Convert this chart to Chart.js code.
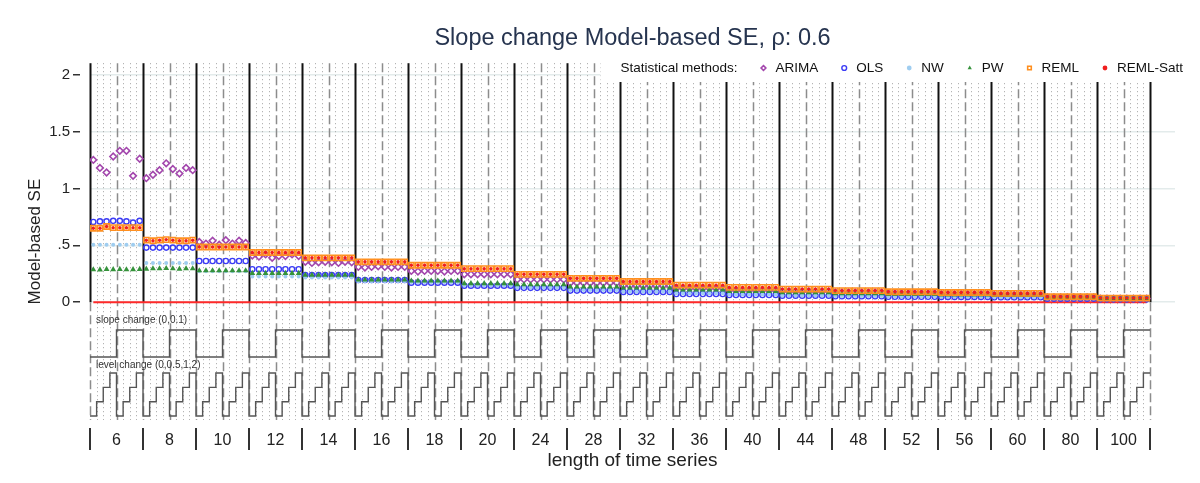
<!DOCTYPE html>
<html>
<head>
<meta charset="utf-8">
<title>Slope change Model-based SE</title>
<script src="https://cdn.jsdelivr.net/npm/chart.js@4.4.1/dist/chart.umd.min.js"></script>
<style>
  body { margin: 0; background: #fff; }
  #wrap { width: 1200px; height: 483px; }
</style>
</head>
<body>
<div id="wrap"><canvas id="seChart" width="1200" height="483"></canvas></div>
<script>
// Categories: length of the time series, and the design inside each group
const groupLabels = ['6', '8', '10', '12', '14', '16', '18', '20', '24', '28',
                     '32', '36', '40', '44', '48', '52', '56', '60', '80', '100'];
const slopeLevels = [0, 0.1];
const levelLevels = [0, 0.5, 1, 2];

// y axis ticks
const yTickValues = [0, 0.5, 1, 1.5, 2];
const yTickLabels = ['0', '.5', '1', '1.5', '2'];

const methodNames = ['ARIMA', 'OLS', 'NW', 'PW', 'REML', 'REML-Satt'];

// Model-based SE, one row per series length, 8 cells per row
// (slope 0: level 0,0.5,1,2 then slope 0.1: level 0,0.5,1,2)
const arimaSE = [
  [1.25, 1.18, 1.14, 1.28, 1.33, 1.33, 1.11, 1.26],
  [1.09, 1.12, 1.16, 1.22, 1.17, 1.13, 1.18, 1.16],
  [0.53, 0.515, 0.54, 0.505, 0.545, 0.515, 0.54, 0.52],
  [0.41, 0.40, 0.42, 0.39, 0.405, 0.405, 0.42, 0.405],
  [0.355, 0.345, 0.35, 0.355, 0.35, 0.345, 0.355, 0.35],
  [0.31, 0.305, 0.31, 0.315, 0.31, 0.305, 0.31, 0.31],
  [0.275, 0.27, 0.275, 0.275, 0.275, 0.27, 0.275, 0.275],
  [0.245, 0.245, 0.245, 0.245, 0.245, 0.245, 0.245, 0.245],
  [0.20, 0.20, 0.20, 0.20, 0.20, 0.20, 0.20, 0.20],
  [0.17, 0.17, 0.17, 0.17, 0.17, 0.17, 0.17, 0.17],
  [0.145, 0.145, 0.145, 0.145, 0.145, 0.145, 0.145, 0.145],
  [0.122, 0.122, 0.122, 0.122, 0.122, 0.122, 0.122, 0.122],
  [0.105, 0.105, 0.105, 0.105, 0.105, 0.105, 0.105, 0.105],
  [0.095, 0.095, 0.095, 0.095, 0.095, 0.095, 0.095, 0.095],
  [0.085, 0.085, 0.085, 0.085, 0.085, 0.085, 0.085, 0.085],
  [0.077, 0.077, 0.077, 0.077, 0.077, 0.077, 0.077, 0.077],
  [0.07, 0.07, 0.07, 0.07, 0.07, 0.07, 0.07, 0.07],
  [0.064, 0.064, 0.064, 0.064, 0.064, 0.064, 0.064, 0.064],
  [0.042, 0.042, 0.042, 0.042, 0.042, 0.042, 0.042, 0.042],
  [0.032, 0.032, 0.032, 0.032, 0.032, 0.032, 0.032, 0.032]
];
const olsSE = [
  [0.705, 0.71, 0.71, 0.715, 0.715, 0.71, 0.70, 0.715],
  [0.48, 0.48, 0.48, 0.48, 0.48, 0.48, 0.48, 0.48],
  [0.362, 0.362, 0.362, 0.362, 0.362, 0.362, 0.362, 0.362],
  [0.29, 0.29, 0.29, 0.29, 0.29, 0.29, 0.29, 0.29],
  [0.238, 0.238, 0.238, 0.238, 0.238, 0.238, 0.238, 0.238],
  [0.195, 0.195, 0.195, 0.195, 0.195, 0.195, 0.195, 0.195],
  [0.172, 0.172, 0.172, 0.172, 0.172, 0.172, 0.172, 0.172],
  [0.145, 0.145, 0.145, 0.145, 0.145, 0.145, 0.145, 0.145],
  [0.126, 0.126, 0.126, 0.126, 0.126, 0.126, 0.126, 0.126],
  [0.102, 0.102, 0.102, 0.102, 0.102, 0.102, 0.102, 0.102],
  [0.09, 0.09, 0.09, 0.09, 0.09, 0.09, 0.09, 0.09],
  [0.072, 0.072, 0.072, 0.072, 0.072, 0.072, 0.072, 0.072],
  [0.063, 0.063, 0.063, 0.063, 0.063, 0.063, 0.063, 0.063],
  [0.057, 0.057, 0.057, 0.057, 0.057, 0.057, 0.057, 0.057],
  [0.052, 0.052, 0.052, 0.052, 0.052, 0.052, 0.052, 0.052],
  [0.048, 0.048, 0.048, 0.048, 0.048, 0.048, 0.048, 0.048],
  [0.046, 0.046, 0.046, 0.046, 0.046, 0.046, 0.046, 0.046],
  [0.043, 0.043, 0.043, 0.043, 0.043, 0.043, 0.043, 0.043],
  [0.031, 0.031, 0.031, 0.031, 0.031, 0.031, 0.031, 0.031],
  [0.025, 0.025, 0.025, 0.025, 0.025, 0.025, 0.025, 0.025]
];
const nwSE = [
  [0.505, 0.505, 0.505, 0.505, 0.505, 0.505, 0.505, 0.505],
  [0.345, 0.345, 0.345, 0.345, 0.345, 0.345, 0.345, 0.345],
  [0.272, 0.272, 0.272, 0.272, 0.272, 0.272, 0.272, 0.272],
  [0.225, 0.225, 0.225, 0.225, 0.225, 0.225, 0.225, 0.225],
  [0.218, 0.218, 0.218, 0.218, 0.218, 0.218, 0.218, 0.218],
  [0.185, 0.185, 0.185, 0.185, 0.185, 0.185, 0.185, 0.185],
  [0.178, 0.178, 0.178, 0.178, 0.178, 0.178, 0.178, 0.178],
  [0.15, 0.15, 0.15, 0.15, 0.15, 0.15, 0.15, 0.15],
  [0.13, 0.13, 0.13, 0.13, 0.13, 0.13, 0.13, 0.13],
  [0.108, 0.108, 0.108, 0.108, 0.108, 0.108, 0.108, 0.108],
  [0.095, 0.095, 0.095, 0.095, 0.095, 0.095, 0.095, 0.095],
  [0.078, 0.078, 0.078, 0.078, 0.078, 0.078, 0.078, 0.078],
  [0.068, 0.068, 0.068, 0.068, 0.068, 0.068, 0.068, 0.068],
  [0.06, 0.06, 0.06, 0.06, 0.06, 0.06, 0.06, 0.06],
  [0.055, 0.055, 0.055, 0.055, 0.055, 0.055, 0.055, 0.055],
  [0.05, 0.05, 0.05, 0.05, 0.05, 0.05, 0.05, 0.05],
  [0.047, 0.047, 0.047, 0.047, 0.047, 0.047, 0.047, 0.047],
  [0.044, 0.044, 0.044, 0.044, 0.044, 0.044, 0.044, 0.044],
  [0.032, 0.032, 0.032, 0.032, 0.032, 0.032, 0.032, 0.032],
  [0.026, 0.026, 0.026, 0.026, 0.026, 0.026, 0.026, 0.026]
];
const pwSE = [
  [0.287, 0.285, 0.29, 0.288, 0.29, 0.287, 0.288, 0.29],
  [0.292, 0.295, 0.295, 0.298, 0.295, 0.292, 0.295, 0.295],
  [0.278, 0.278, 0.278, 0.278, 0.278, 0.278, 0.278, 0.278],
  [0.255, 0.255, 0.255, 0.255, 0.255, 0.255, 0.255, 0.255],
  [0.238, 0.238, 0.238, 0.238, 0.238, 0.238, 0.238, 0.238],
  [0.197, 0.197, 0.197, 0.197, 0.197, 0.197, 0.197, 0.197],
  [0.188, 0.188, 0.188, 0.188, 0.188, 0.188, 0.188, 0.188],
  [0.165, 0.165, 0.165, 0.165, 0.165, 0.165, 0.165, 0.165],
  [0.155, 0.155, 0.155, 0.155, 0.155, 0.155, 0.155, 0.155],
  [0.135, 0.135, 0.135, 0.135, 0.135, 0.135, 0.135, 0.135],
  [0.126, 0.126, 0.126, 0.126, 0.126, 0.126, 0.126, 0.126],
  [0.11, 0.11, 0.11, 0.11, 0.11, 0.11, 0.11, 0.11],
  [0.095, 0.095, 0.095, 0.095, 0.095, 0.095, 0.095, 0.095],
  [0.085, 0.085, 0.085, 0.085, 0.085, 0.085, 0.085, 0.085],
  [0.077, 0.077, 0.077, 0.077, 0.077, 0.077, 0.077, 0.077],
  [0.07, 0.07, 0.07, 0.07, 0.07, 0.07, 0.07, 0.07],
  [0.065, 0.065, 0.065, 0.065, 0.065, 0.065, 0.065, 0.065],
  [0.06, 0.06, 0.06, 0.06, 0.06, 0.06, 0.06, 0.06],
  [0.04, 0.04, 0.04, 0.04, 0.04, 0.04, 0.04, 0.04],
  [0.031, 0.031, 0.031, 0.031, 0.031, 0.031, 0.031, 0.031]
];
const remlSE = [
  [0.65, 0.65, 0.665, 0.655, 0.655, 0.655, 0.655, 0.655],
  [0.545, 0.54, 0.545, 0.55, 0.545, 0.54, 0.54, 0.545],
  [0.485, 0.485, 0.485, 0.485, 0.485, 0.485, 0.485, 0.485],
  [0.437, 0.437, 0.437, 0.437, 0.437, 0.437, 0.437, 0.437],
  [0.39, 0.39, 0.39, 0.39, 0.39, 0.39, 0.39, 0.39],
  [0.355, 0.355, 0.355, 0.355, 0.355, 0.355, 0.355, 0.355],
  [0.325, 0.325, 0.325, 0.325, 0.325, 0.325, 0.325, 0.325],
  [0.295, 0.295, 0.295, 0.295, 0.295, 0.295, 0.295, 0.295],
  [0.245, 0.245, 0.245, 0.245, 0.245, 0.245, 0.245, 0.245],
  [0.21, 0.21, 0.21, 0.21, 0.21, 0.21, 0.21, 0.21],
  [0.182, 0.182, 0.182, 0.182, 0.182, 0.182, 0.182, 0.182],
  [0.15, 0.15, 0.15, 0.15, 0.15, 0.15, 0.15, 0.15],
  [0.13, 0.13, 0.13, 0.13, 0.13, 0.13, 0.13, 0.13],
  [0.115, 0.115, 0.115, 0.115, 0.115, 0.115, 0.115, 0.115],
  [0.102, 0.102, 0.102, 0.102, 0.102, 0.102, 0.102, 0.102],
  [0.092, 0.092, 0.092, 0.092, 0.092, 0.092, 0.092, 0.092],
  [0.085, 0.085, 0.085, 0.085, 0.085, 0.085, 0.085, 0.085],
  [0.077, 0.077, 0.077, 0.077, 0.077, 0.077, 0.077, 0.077],
  [0.048, 0.048, 0.048, 0.048, 0.048, 0.048, 0.048, 0.048],
  [0.036, 0.036, 0.036, 0.036, 0.036, 0.036, 0.036, 0.036]
];
// Satterthwaite only changes the df, the SE sits on top of the REML one
const remlSattSE = remlSE;

const FONT = "'Liberation Sans', Arial, sans-serif";
const cellsPerGroup = slopeLevels.length * levelLevels.length;
const totalCells = groupLabels.length * cellsPerGroup;

// marker style per method
const methodStyles = [
  { pointStyle: 'rectRot', radius: 3.3, borderColor: '#a347ad', backgroundColor: 'rgba(0,0,0,0)', borderWidth: 1.6 },
  { pointStyle: 'circle', radius: 2.6, borderColor: '#3b3bf5', backgroundColor: 'rgba(0,0,0,0)', borderWidth: 1.4 },
  { pointStyle: 'circle', radius: 2, borderColor: '#9fcdf0', backgroundColor: '#9fcdf0', borderWidth: 0 },
  { pointStyle: 'triangle', radius: 3.4, borderColor: '#35923b', backgroundColor: '#35923b', borderWidth: 0 },
  { pointStyle: 'rect', radius: 3.7, borderColor: '#ff8f1f', backgroundColor: 'rgba(0,0,0,0)', borderWidth: 1.6 },
  { pointStyle: 'circle', radius: 1.7, borderColor: '#f01e1e', backgroundColor: '#f01e1e', borderWidth: 0 }
];

// put each value at the centre of its cell
function toPoints(rows) {
  const pts = [];
  rows.forEach((row, g) => {
    row.forEach((v, k) => pts.push({ x: g * cellsPerGroup + k + 0.5, y: v }));
  });
  return pts;
}

// design step lines (slope change and level change), one step per cell
const slopeSteps = [];
const levelSteps = [];
groupLabels.forEach((label, g) => {
  slopeLevels.forEach((s, si) => {
    levelLevels.forEach((l, li) => {
      const x = g * cellsPerGroup + si * levelLevels.length + li;
      slopeSteps.push({ x: x, y: s });
      levelSteps.push({ x: x, y: li });
    });
  });
});
slopeSteps.push({ x: totalCells, y: slopeSteps[slopeSteps.length - 1].y });
levelSteps.push({ x: totalCells, y: levelSteps[levelSteps.length - 1].y });

const zeroLine = [{ x: 0.5, y: 0 }, { x: totalCells - 0.5, y: 0 }];

const seRows = [arimaSE, olsSE, nwSE, pwSE, remlSE, remlSattSE];
const methodDatasets = methodNames.map((name, m) => ({
  label: name,
  data: toPoints(seRows[m]),
  yAxisID: 'y',
  showLine: false,
  order: methodNames.length - m,
  pointStyle: methodStyles[m].pointStyle,
  pointRadius: methodStyles[m].radius,
  pointBorderWidth: methodStyles[m].borderWidth,
  pointBorderColor: methodStyles[m].borderColor,
  pointBackgroundColor: methodStyles[m].backgroundColor
}));

function drawMarker(ctx, st, x, y, r) {
  ctx.save();
  ctx.lineWidth = st.borderWidth;
  ctx.strokeStyle = st.borderColor;
  ctx.fillStyle = st.backgroundColor;
  ctx.beginPath();
  if (st.pointStyle === 'circle') {
    ctx.arc(x, y, r, 0, Math.PI * 2);
  } else if (st.pointStyle === 'rect') {
    ctx.rect(x - r * 0.75, y - r * 0.75, r * 1.5, r * 1.5);
  } else if (st.pointStyle === 'rectRot') {
    ctx.moveTo(x, y - r); ctx.lineTo(x + r, y); ctx.lineTo(x, y + r); ctx.lineTo(x - r, y); ctx.closePath();
  } else {
    ctx.moveTo(x, y - r); ctx.lineTo(x + r * 0.87, y + r * 0.5); ctx.lineTo(x - r * 0.87, y + r * 0.5); ctx.closePath();
  }
  ctx.fill();
  if (st.borderWidth > 0) ctx.stroke();
  ctx.restore();
}

// Vertical guide lines, panel captions, legend and group tick marks
const panelLines = {
  id: 'panelLines',
  beforeDatasetsDraw(chart) {
    const { ctx, chartArea, scales } = chart;
    const top = chartArea.top;
    const bottom = chartArea.bottom;
    const zeroY = scales.y.getPixelForValue(0);
    ctx.save();
    for (let i = 0; i <= totalCells; i++) {
      const px = Math.round(scales.x.getPixelForValue(i)) + 0.5;
      ctx.beginPath();
      if (i % cellsPerGroup === 0) {
        ctx.setLineDash([]);
        ctx.strokeStyle = '#111';
        ctx.lineWidth = 2;
        ctx.moveTo(px, top);
        ctx.lineTo(px, zeroY);
        ctx.stroke();
        ctx.beginPath();
        ctx.setLineDash([9, 4]);
        ctx.strokeStyle = '#8c8c8c';
        ctx.lineWidth = 1.5;
        ctx.moveTo(px, zeroY);
        ctx.lineTo(px, bottom);
      } else if (i % levelLevels.length === 0) {
        ctx.setLineDash([9, 4]);
        ctx.strokeStyle = '#8c8c8c';
        ctx.lineWidth = 1.5;
        ctx.moveTo(px, top);
        ctx.lineTo(px, bottom);
      } else {
        ctx.setLineDash([1, 3]);
        ctx.strokeStyle = '#a3a3a3';
        ctx.lineWidth = 1;
        ctx.moveTo(px, top);
        ctx.lineTo(px, bottom);
      }
      ctx.stroke();
    }
    ctx.setLineDash([]);
    ctx.font = '10px ' + FONT;
    ctx.fillStyle = '#333';
    ctx.textBaseline = 'middle';
    ctx.textAlign = 'left';
    ctx.fillText('slope change (' + slopeLevels.join(',') + ')', chartArea.left + 6, zeroY + 18);
    ctx.fillText('level change (' + levelLevels.join(',') + ')', chartArea.left + 6,
      scales.ySlope.getPixelForValue(0) + 8);
    ctx.restore();
  },
  afterDraw(chart) {
    const { ctx, chartArea, scales } = chart;
    ctx.save();
    // group separators under the plot
    ctx.strokeStyle = '#333';
    ctx.lineWidth = 2;
    for (let g = 0; g <= groupLabels.length; g++) {
      const px = Math.round(scales.x.getPixelForValue(g * cellsPerGroup));
      ctx.beginPath();
      ctx.moveTo(px, chartArea.bottom + 8);
      ctx.lineTo(px, chartArea.bottom + 30);
      ctx.stroke();
    }
    // legend, right aligned
    ctx.font = '13.5px ' + FONT;
    const legendTitle = 'Statistical methods:';
    const rightEdge = chartArea.right + 8;
    const markerGap = 12, itemGap = 26;
    let total = ctx.measureText(legendTitle).width;
    methodNames.forEach(n => { total += itemGap + markerGap + ctx.measureText(n).width; });
    let lx = rightEdge - total;
    const ly = 68;
    ctx.fillStyle = '#fff';
    ctx.fillRect(lx - 20, 54, rightEdge - lx + 28, 28);
    ctx.fillStyle = '#111';
    ctx.textBaseline = 'middle';
    ctx.textAlign = 'left';
    ctx.fillText(legendTitle, lx, ly);
    lx += ctx.measureText(legendTitle).width;
    methodNames.forEach((n, m) => {
      lx += itemGap;
      drawMarker(ctx, methodStyles[m], lx, ly, 2.4);
      lx += markerGap;
      ctx.fillStyle = '#111';
      ctx.fillText(n, lx, ly);
      lx += ctx.measureText(n).width;
    });
    ctx.restore();
  }
};

const chartInstance = new Chart(document.getElementById('seChart').getContext('2d'), {
  type: 'scatter',
  data: {
    datasets: methodDatasets.concat([
      {
        label: 'zero', data: zeroLine, yAxisID: 'y', showLine: true, order: 8,
        borderColor: '#ff2a2a', borderWidth: 2, pointRadius: 0
      },
      {
        label: 'slope change', data: slopeSteps, yAxisID: 'ySlope', showLine: true, stepped: true,
        order: 9, borderColor: '#555', borderWidth: 1.4, pointRadius: 0
      },
      {
        label: 'level change', data: levelSteps, yAxisID: 'yLevel', showLine: true, stepped: true,
        order: 9, borderColor: '#555', borderWidth: 1.4, pointRadius: 0
      }
    ])
  },
  options: {
    responsive: false,
    animation: false,
    events: [],
    layout: { padding: { left: 0, right: 25, top: 0, bottom: 0 } },
    plugins: {
      legend: { display: false },
      tooltip: { enabled: false },
      title: {
        display: true,
        text: 'Slope change Model-based SE, ρ: 0.6',
        fullSize: false,
        color: '#26344f',
        font: { family: FONT, size: 23.5, weight: 'normal' },
        padding: { top: 24, bottom: 11 }
      }
    },
    scales: {
      x: {
        type: 'linear',
        min: 0,
        max: 163.77,
        grid: { display: false, drawTicks: false },
        border: { display: false },
        afterBuildTicks: axis => {
          axis.ticks = groupLabels.map((l, g) => ({ value: g * cellsPerGroup + cellsPerGroup / 2 }));
        },
        ticks: {
          autoSkip: false,
          maxRotation: 0,
          padding: 11,
          color: '#222',
          font: { family: FONT, size: 16 },
          callback: (value, index) => groupLabels[index]
        },
        title: {
          display: true,
          text: 'length of time series',
          color: '#222',
          font: { family: FONT, size: 19 },
          padding: { top: 0, bottom: 11 }
        },
        afterFit: axis => { axis.height = 63; }
      },
      y: {
        type: 'linear',
        position: 'left',
        min: -1.035,
        max: 2.1,
        afterBuildTicks: axis => {
          axis.ticks = yTickValues.map(v => ({ value: v }));
        },
        ticks: {
          padding: 3,
          color: '#222',
          font: { family: FONT, size: 15 },
          callback: (value, index) => yTickLabels[index]
        },
        grid: {
          color: '#e3ebeb',
          lineWidth: 1.5,
          tickColor: '#333',
          tickLength: 17,
          tickWidth: 1.5,
          tickBorderDash: [7, 20]
        },
        border: { display: false },
        title: {
          display: true,
          text: 'Model-based SE',
          color: '#222',
          font: { family: FONT, size: 17 },
          padding: { top: 25, bottom: 0 }
        },
        afterFit: axis => { axis.width = 90; }
      },
      ySlope: { type: 'linear', display: false, min: -0.2333, max: 1.0889 },
      yLevel: { type: 'linear', display: false, min: -0.279, max: 24.63 }
    }
  },
  plugins: [panelLines]
});
</script>
</body>
</html>
